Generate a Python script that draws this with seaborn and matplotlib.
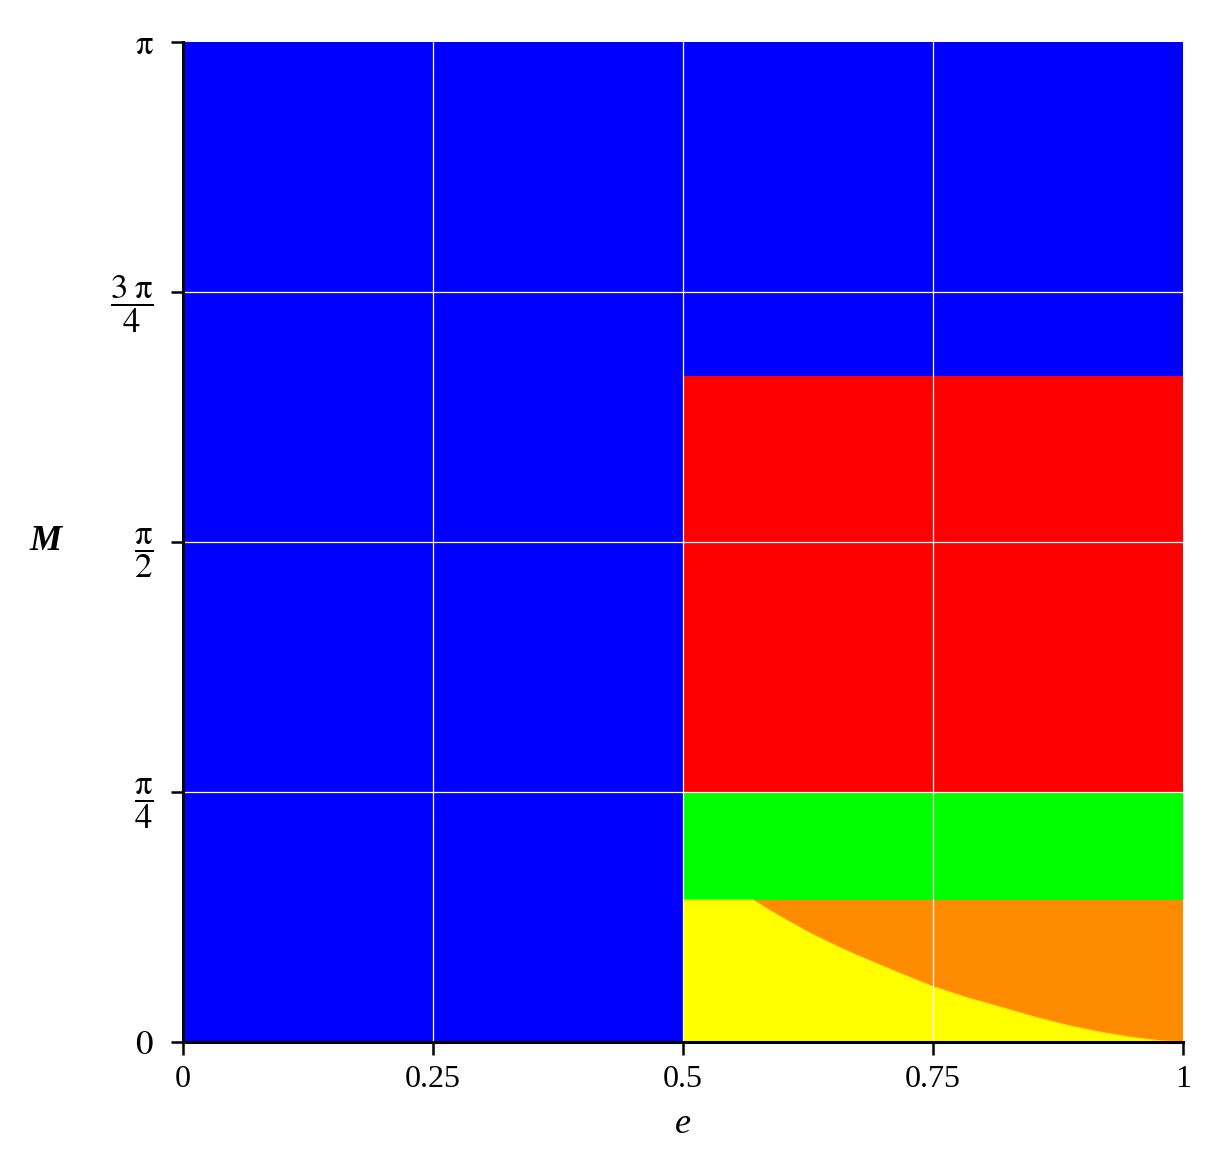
import numpy as np
import pandas as pd
import matplotlib
matplotlib.use("Agg")
import matplotlib.pyplot as plt
import seaborn as sns

# ---- data (M values given as fractions of pi) ----
e_ticks = [0, 0.25, 0.5, 0.75, 1]
e_tick_labels = ["0", "0.25", "0.5", "0.75", "1"]
M_ticks_frac = [0, 0.25, 0.5, 0.75, 1.0]
M_tick_labels = [r"$0$", r"$\dfrac{\mathrm{\pi}}{4}$", r"$\dfrac{\mathrm{\pi}}{2}$",
                 r"$\dfrac{3\;\mathrm{\pi}}{4}$", r"$\mathrm{\pi}$"]

e_split = 0.5                 # left of this: blue everywhere
red_top_frac = 0.666          # red band upper edge
red_bottom_frac = 0.25        # red band lower edge / green upper edge
green_bottom_frac = 0.1416    # green lower edge / orange upper edge

# yellow / orange boundary curve
curve_e = [0.500, 0.570, 0.587, 0.607, 0.627, 0.647, 0.667, 0.687, 0.715,
           0.750, 0.782, 0.819, 0.850, 0.884, 0.917, 0.950, 0.980, 1.000]
curve_M_frac = [0.1416, 0.1416, 0.1310, 0.1195, 0.1085, 0.0985, 0.0893, 0.0808,
                0.0690, 0.0550, 0.0445, 0.0340, 0.0250, 0.0163, 0.0095, 0.0040,
                0.0005, 0.0]

colors = {"blue": "#0000ff", "red": "#ff0000", "green": "#00ff00",
          "orange": "#ff8c00", "yellow": "#ffff00"}

sns.set_theme(style="white")
plt.rcParams["font.family"] = ["Liberation Serif", "DejaVu Serif"]
plt.rcParams["mathtext.fontset"] = "stix"

fig = plt.figure(figsize=(12.16, 11.63), dpi=100)
ax = fig.add_axes([183 / 1216, 1 - 1041.5 / 1163, 1000 / 1216, 999.5 / 1163])

PI = np.pi
# blue background region
ax.fill_between([0, 1], 0, PI, color=colors["blue"], lw=0, zorder=1)
# red band
ax.fill_between([e_split, 1], red_bottom_frac * PI, red_top_frac * PI,
                color=colors["red"], lw=0, zorder=2)
# green band
ax.fill_between([e_split, 1], green_bottom_frac * PI, red_bottom_frac * PI,
                color=colors["green"], lw=0, zorder=2)
# orange band
ax.fill_between([e_split, 1], 0, green_bottom_frac * PI,
                color=colors["orange"], lw=0, zorder=2)
# yellow under the curve
df = pd.DataFrame({"e": curve_e, "M": np.array(curve_M_frac) * PI})
ax.fill_between(df["e"], 0, df["M"], color=colors["yellow"], lw=0, zorder=3)
sns.lineplot(data=df, x="e", y="M", ax=ax, color=colors["yellow"], lw=0.6,
             zorder=3, legend=False)

# grid
for xv in e_ticks[1:-1]:
    ax.axvline(xv, color="white", lw=0.9, zorder=5)
for yv in M_ticks_frac[1:-1]:
    ax.axhline(yv * PI, color="white", lw=0.9, zorder=5)

ax.set_xlim(0, 1)
ax.set_ylim(0, PI)
ax.set_xticks(e_ticks)
ax.set_xticklabels(e_tick_labels, fontsize=23)
ax.set_yticks([f * PI for f in M_ticks_frac])
ax.set_yticklabels(M_tick_labels, fontsize=25)

for s in ["top", "right"]:
    ax.spines[s].set_visible(False)
for s in ["left", "bottom"]:
    ax.spines[s].set_visible(True)
    ax.spines[s].set_color("black")
    ax.spines[s].set_linewidth(2.2)
    ax.spines[s].set_zorder(10)

ax.tick_params(axis="both", which="major", direction="out", length=9,
               width=1.8, color="black", labelcolor="black",
               left=True, bottom=True)
ax.tick_params(axis="y", pad=12)
ax.tick_params(axis="x", pad=8)

ax.set_xlabel("e", fontsize=26, style="italic", labelpad=10, color="black")
ax.set_ylabel("M", fontsize=26, style="italic", fontweight="bold",
              rotation=0, va="center", ha="center", color="black")
ax.yaxis.set_label_coords(-0.137, 0.5)

fig.savefig("out.png", dpi=100)
